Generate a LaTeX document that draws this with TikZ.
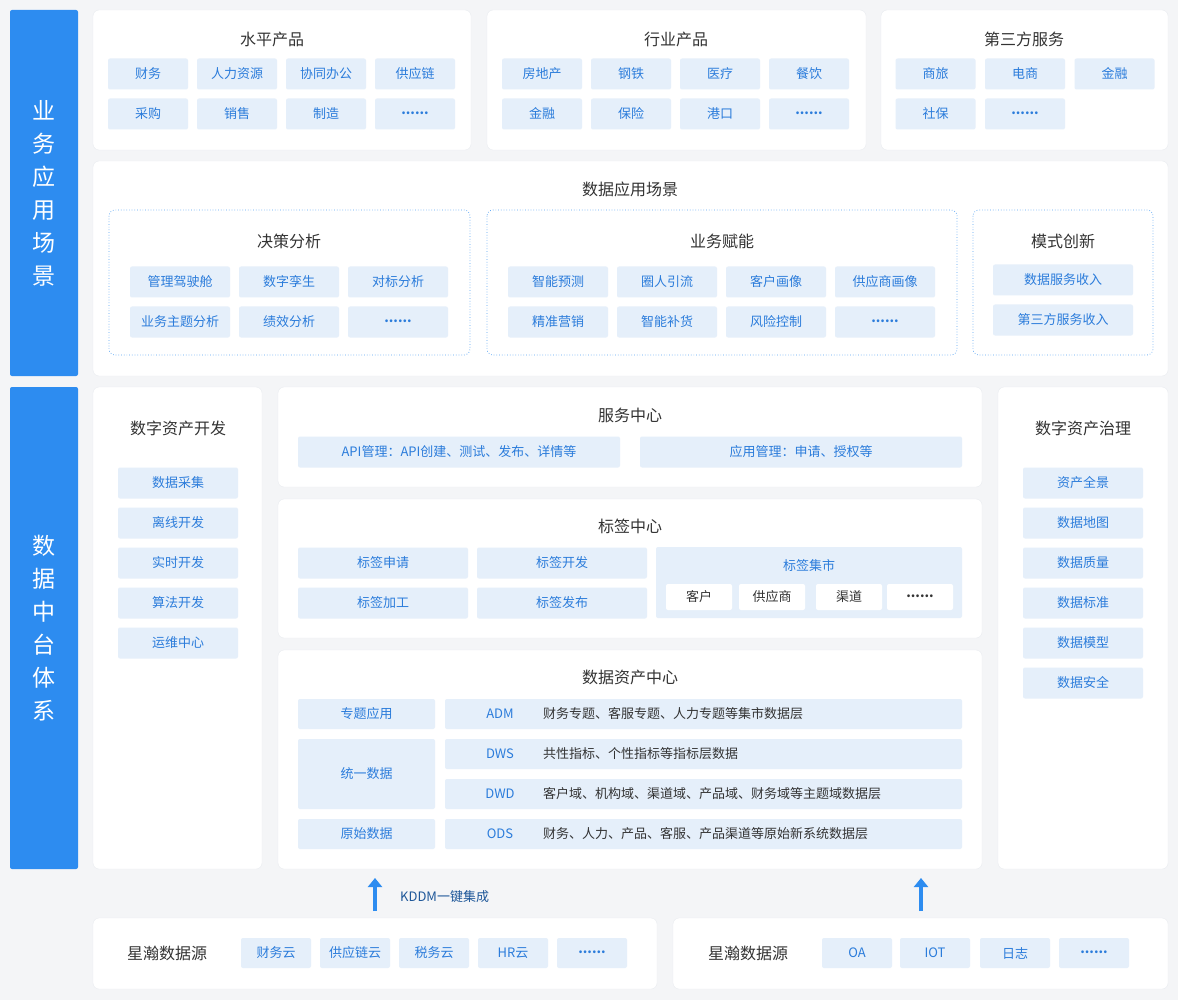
\documentclass[tikz,border=0pt]{standalone}
\usepackage{fontspec}
\setmainfont{Noto Sans CJK SC}
\usetikzlibrary{positioning}
\usetikzlibrary{arrows.meta}
\definecolor{barblue}{HTML}{2D8CF0}
\definecolor{tagfill}{HTML}{E5EFFA}
\definecolor{tagtext}{HTML}{2B7CDB}
\definecolor{titletext}{HTML}{333333}
\definecolor{bggray}{HTML}{F4F5F7}
\definecolor{panelline}{HTML}{E9ECF0}
\newcommand{\moredots}{\raisebox{2pt}{\textbf{......}}}
\tikzset{
  panel/.style={draw=panelline, fill=white, rounded corners=6pt},
  dotbox/.style={draw=barblue!80, dotted, line width=0.7pt, fill=white!97!bggray, rounded corners=6pt},
  sidebar/.style={fill=barblue, rounded corners=2pt},
  ptitle/.style={text=titletext, font=\fontsize{16}{18}\selectfont, inner sep=0pt},
  tagbox/.style={fill=tagfill, text=tagtext, rounded corners=2pt, minimum height=31pt,
    inner sep=0pt, font=\fontsize{13}{15}\selectfont},
  wtag/.style={fill=white, text=titletext, rounded corners=2pt, minimum height=26pt,
    minimum width=66pt, inner sep=0pt, font=\fontsize{13}{15}\selectfont},
  bartext/.style={text=white, font=\fontsize{23}{33}\selectfont, align=center, inner sep=0pt},
  uparrow/.style={barblue, line width=4pt, -{Triangle[length=9pt,width=14pt]}}
}
\begin{document}
\begin{tikzpicture}[x=1pt, y=-1pt]
\useasboundingbox[fill=bggray] (0,0) rectangle (1178,1000);

% side bars
\fill[sidebar] (10,10) rectangle (78,376);
\node[bartext] (barA) at (44,193) {业\\务\\应\\用\\场\\景};
\fill[sidebar] (10,387) rectangle (78,869);
\node[bartext] (barB) at (44,628) {数\\据\\中\\台\\体\\系};

% top row
\draw[panel] (93,10) rectangle (471,150);
\draw[panel] (487,10) rectangle (866,150);
\draw[panel] (881,10) rectangle (1168,150);
\node[ptitle] (hp) at (272,39) {水平产品};
\node[ptitle] (hy) at (676,39) {行业产品};
\node[ptitle] (dsf) at (1024,39) {第三方服务};
\foreach \t [count=\i] in {财务,人力资源,协同办公,供应链}
  \node[tagbox, minimum width=80pt] (hpa\i) at (59+89*\i,74) {\t};
\foreach \t [count=\i] in {采购,销售,制造,\moredots}
  \node[tagbox, minimum width=80pt] (hpb\i) at (59+89*\i,114) {\t};
\foreach \t [count=\i] in {房地产,钢铁,医疗,餐饮}
  \node[tagbox, minimum width=80pt] (hya\i) at (453+89*\i,74) {\t};
\foreach \t [count=\i] in {金融,保险,港口,\moredots}
  \node[tagbox, minimum width=80pt] (hyb\i) at (453+89*\i,114) {\t};
\foreach \t [count=\i] in {商旅,电商,金融}
  \node[tagbox, minimum width=80pt] (dsa\i) at (846+89.5*\i,74) {\t};
\foreach \t [count=\i] in {社保,\moredots}
  \node[tagbox, minimum width=80pt] (dsb\i) at (846+89.5*\i,114) {\t};

% application scenes
\draw[panel] (93,161) rectangle (1168,376);
\node[ptitle] (yycj) at (630,189) {数据应用场景};
\draw[dotbox] (109,210) rectangle (470,355);
\draw[dotbox] (487,210) rectangle (957,355);
\draw[dotbox] (973,210) rectangle (1153,355);
\node[ptitle] (jc) at (289,241) {决策分析};
\node[ptitle] (fn) at (722,241) {业务赋能};
\node[ptitle] (ms) at (1063,241) {模式创新};
\foreach \t [count=\i] in {管理驾驶舱,数字孪生,对标分析}
  \node[tagbox, minimum width=100pt] (jca\i) at (71+109*\i,282) {\t};
\foreach \t [count=\i] in {业务主题分析,绩效分析,\moredots}
  \node[tagbox, minimum width=100pt] (jcb\i) at (71+109*\i,322) {\t};
\foreach \t [count=\i] in {智能预测,圈人引流,客户画像,供应商画像}
  \node[tagbox, minimum width=100pt] (fna\i) at (449+109*\i,282) {\t};
\foreach \t [count=\i] in {精准营销,智能补货,风险控制,\moredots}
  \node[tagbox, minimum width=100pt] (fnb\i) at (449+109*\i,322) {\t};
\node[tagbox, minimum width=140pt] (msa) at (1063,280) {数据服务收入};
\node[tagbox, minimum width=140pt] (msb) at (1063,320) {第三方服务收入};

% asset development
\draw[panel] (93,387) rectangle (262,869);
\node[ptitle] (kf) at (178,428) {数字资产开发};
\foreach \t [count=\i] in {数据采集,离线开发,实时开发,算法开发,运维中心}
  \node[tagbox, minimum width=120pt] (kf\i) at (178,443+40*\i) {\t};

% asset governance
\draw[panel] (998,387) rectangle (1168,869);
\node[ptitle] (zl) at (1083,428) {数字资产治理};
\foreach \t [count=\i] in {资产全景,数据地图,数据质量,数据标准,数据模型,数据安全}
  \node[tagbox, minimum width=120pt] (zl\i) at (1083,443+40*\i) {\t};

% service center
\draw[panel] (278,387) rectangle (982,487);
\node[ptitle] (fw) at (630,415) {服务中心};
\node[tagbox, minimum width=322pt] (fwa) at (459,452) {API管理：API创建、测试、发布、详情等};
\node[tagbox, minimum width=322pt] (fwb) at (801,452) {应用管理：申请、授权等};

% tag center
\draw[panel] (278,499) rectangle (982,638);
\node[ptitle] (bq) at (630,526) {标签中心};
\node[tagbox, minimum width=170pt] (bq1) at (383,563) {标签申请};
\node[tagbox, minimum width=170pt] (bq2) at (562,563) {标签开发};
\node[tagbox, minimum width=170pt] (bq3) at (383,603) {标签加工};
\node[tagbox, minimum width=170pt] (bq4) at (562,603) {标签发布};
\fill[tagfill, rounded corners=2pt] (656,547) rectangle (962,618);
\node[text=tagtext, font=\fontsize{13}{15}\selectfont] (bqjs) at (809,565) {标签集市};
\foreach \t/\x [count=\i] in {客户/699,供应商/772,渠道/849,\moredots/920}
  \node[wtag] (js\i) at (\x,597) {\t};

% data asset center
\draw[panel] (278,650) rectangle (982,869);
\node[ptitle] (zc) at (630,677) {数据资产中心};
\node[tagbox, minimum width=137pt, minimum height=30pt] (zt) at (366.5,714) {专题应用};
\node[tagbox, minimum width=137pt, minimum height=70pt] (ty) at (366.5,774) {统一数据};
\node[tagbox, minimum width=137pt, minimum height=30pt] (ys) at (366.5,834) {原始数据};
\foreach \c/\d [count=\i] in {ADM/财务专题、客服专题、人力专题等集市数据层,
    DWS/共性指标、个性指标等指标层数据,
    DWD/客户域、机构域、渠道域、产品域、财务域等主题域数据层,
    ODS/财务、人力、产品、客服、产品渠道等原始新系统数据层} {
  \node[tagbox, minimum width=517pt, minimum height=30pt] (ly\i) at (703.5,674+40*\i) {};
  \node[text=tagtext, font=\fontsize{13}{15}\selectfont, inner sep=0pt] (lc\i) at (500,674+40*\i) {\c};
  \node[text=titletext, font=\fontsize{13}{15}\selectfont, inner sep=0pt, anchor=west] (ld\i) at (543,674+40*\i) {\d};
}

% integration arrows
\coordinate (arA) at (375,911);
\coordinate (arAt) at (375,878);
\coordinate (arB) at (921,911);
\coordinate (arBt) at (921,878);
\draw[uparrow] (arA) -- (arAt);
\draw[uparrow] (arB) -- (arBt);
\node[text=tagtext!70!black, font=\fontsize{13}{15}\selectfont, anchor=west, inner sep=0pt] (kddm) at (400,897) {KDDM一键集成};

% sources
\draw[panel] (93,918) rectangle (657,989);
\draw[panel] (673,918) rectangle (1168,989);
\node[ptitle] (xh1) at (167,953) {星瀚数据源};
\node[ptitle] (xh2) at (748,953) {星瀚数据源};
\foreach \t/\x [count=\i] in {财务云/276,供应链云/355,税务云/434,HR云/513,\moredots/592}
  \node[tagbox, minimum width=70pt, minimum height=30pt] (sa\i) at (\x,953) {\t};
\foreach \t/\x [count=\i] in {OA/857,IOT/935,日志/1015,\moredots/1094}
  \node[tagbox, minimum width=70pt, minimum height=30pt] (sb\i) at (\x,953) {\t};
\end{tikzpicture}
\end{document}
